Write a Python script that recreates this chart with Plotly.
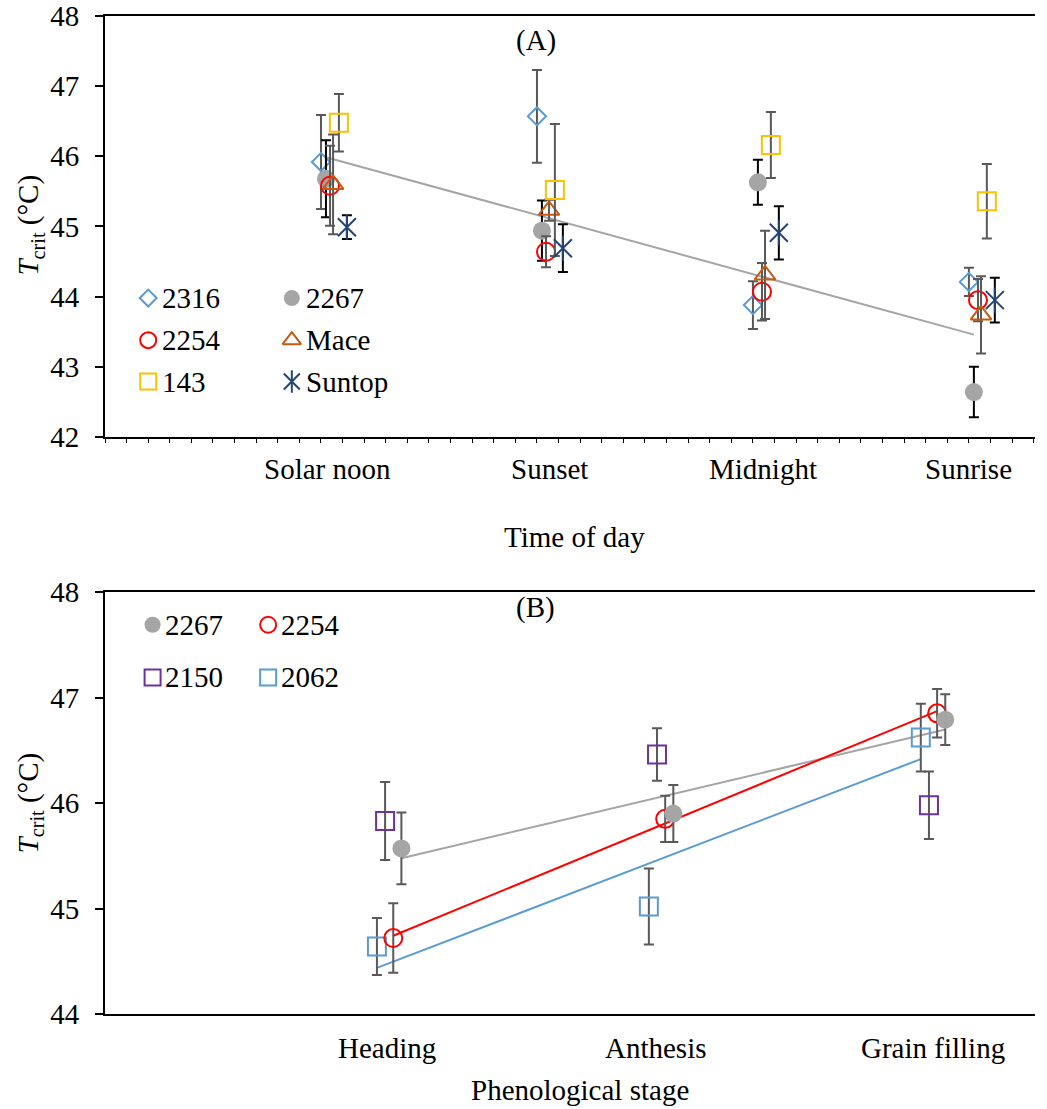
import numpy as np
import plotly.graph_objects as go

# ---------------- Data: panel A ----------------
times = ["Solar noon", "Sunset", "Midnight", "Sunrise"]
a_series = ["2316", "2267", "2254", "Mace", "143", "Suntop"]
a_2316 = [45.92, 46.57, 43.88, 44.21]
a_2316_err = [0.67, 0.66, 0.34, 0.20]
a_2267 = [45.68, 44.94, 45.63, 42.64]
a_2267_err = [0.55, 0.43, 0.32, 0.36]
a_2254 = [45.58, 44.64, 44.07, 43.95]
a_2254_err = [0.57, 0.22, 0.41, 0.30]
a_mace = [45.60, 45.23, 44.31, 43.74]
a_mace_err = [0.71, 0.15, 0.63, 0.55]
a_143 = [46.48, 45.52, 46.16, 45.36]
a_143_err = [0.41, 0.94, 0.47, 0.53]
a_suntop = [44.99, 44.69, 44.91, 43.95]
a_suntop_err = [0.17, 0.34, 0.38, 0.32]
a_yticks = [42, 43, 44, 45, 46, 47, 48]

# ---------------- Data: panel B ----------------
stages = ["Heading", "Anthesis", "Grain filling"]
b_2267 = [45.57, 45.90, 46.79]
b_2267_err = [0.34, 0.27, 0.24]
b_2254 = [44.72, 45.85, 46.85]
b_2254_err = [0.33, 0.22, 0.23]
b_2150 = [45.83, 46.46, 45.98]
b_2150_err = [0.37, 0.25, 0.32]
b_2062 = [44.64, 45.02, 46.62]
b_2062_err = [0.27, 0.36, 0.32]
b_yticks = [44, 45, 46, 47, 48]

FONT = "Liberation Serif"
FS = 29
GRAY_BAR = "#595959"
BLACK = "#000000"

C_2316 = "#5B9BD5"
C_2267 = "#A5A5A5"
C_2254 = "#FF0000"
C_MACE = "#C55A11"
C_143 = "#FFC000"
C_SUNTOP = "#264478"
C_2150 = "#7030A0"
C_2062 = "#5B9BD5"

fig = go.Figure()

def add_series(xs, ys, errs, symbol, color, size, errcolor, xa, ya, lw=2):
    fig.add_trace(go.Scatter(
        x=xs, y=ys, mode="markers", xaxis=xa, yaxis=ya, showlegend=False,
        marker=dict(symbol=symbol, size=size, color=color,
                    line=dict(color=color, width=lw)),
        error_y=dict(type="data", array=errs, visible=True, color=errcolor,
                     thickness=2, width=5),
        hoverinfo="skip"))

def add_trend(xs, ys, color, xa, ya):
    x = np.array(xs, dtype=float)
    y = np.array(ys, dtype=float)
    k, b = np.polyfit(x, y, 1)
    xe = np.array([x[0], x[-1]])
    fig.add_trace(go.Scatter(x=xe, y=k * xe + b, mode="lines", xaxis=xa, yaxis=ya,
                             line=dict(color=color, width=2), showlegend=False,
                             hoverinfo="skip"))

# ---------------- Panel A ----------------
ia = np.arange(1, len(times) + 1)
offA = [0.0, 0.023, 0.042, 0.056, 0.083, 0.12]

add_trend(ia + offA[1], a_2267, C_2267, "x", "y")
add_series(ia + offA[0], a_2316, a_2316_err, "diamond-open", C_2316, 14, GRAY_BAR, "x", "y")
add_series(ia + offA[1], a_2267, a_2267_err, "circle", C_2267, 18, BLACK, "x", "y", lw=0)
add_series(ia + offA[2], a_2254, a_2254_err, "circle-open", C_2254, 18, GRAY_BAR, "x", "y")
add_series(ia + offA[3], a_mace, a_mace_err, "triangle-up-open", C_MACE, 18, GRAY_BAR, "x", "y")
add_series(ia + offA[4], a_143, a_143_err, "square-open", C_143, 18, GRAY_BAR, "x", "y")
add_series(ia + offA[5], a_suntop, a_suntop_err, "x-thin-open", C_SUNTOP, 18, BLACK, "x", "y")
fig.add_trace(go.Scatter(x=ia + offA[5], y=a_suntop, mode="markers", xaxis="x", yaxis="y",
                         marker=dict(symbol="line-ns-open", size=18, color=C_SUNTOP,
                                     line=dict(color=C_SUNTOP, width=2)),
                         showlegend=False, hoverinfo="skip"))

# ---------------- Panel B ----------------
ib = np.arange(1, len(stages) + 1)
offB = {"2062": 0.0, "2150": 0.03, "2254": 0.06, "2267": 0.09}

add_trend(ib + offB["2267"], b_2267, C_2267, "x2", "y2")
add_trend(ib + offB["2254"], b_2254, C_2254, "x2", "y2")
add_trend(ib + offB["2062"], b_2062, C_2062, "x2", "y2")
add_series(ib + offB["2062"], b_2062, b_2062_err, "square-open", C_2062, 18, GRAY_BAR, "x2", "y2")
add_series(ib + offB["2150"], b_2150, b_2150_err, "square-open", C_2150, 18, GRAY_BAR, "x2", "y2")
add_series(ib + offB["2254"], b_2254, b_2254_err, "circle-open", C_2254, 18, GRAY_BAR, "x2", "y2")
add_series(ib + offB["2267"], b_2267, b_2267_err, "circle", C_2267, 18, GRAY_BAR, "x2", "y2", lw=0)

# ---------------- Manual legends ----------------
ann = []

def legend_item(xa, ya, mx, tx, yv, symbol, color, label, size=16, lw=2):
    fig.add_trace(go.Scatter(x=[mx], y=[yv], mode="markers", xaxis=xa, yaxis=ya,
                             marker=dict(symbol=symbol, size=size, color=color,
                                         line=dict(color=color, width=lw)),
                             showlegend=False, hoverinfo="skip"))
    ann.append(dict(x=tx, y=yv, xref=xa, yref=ya, text=label, showarrow=False,
                    xanchor="left", yanchor="middle",
                    font=dict(family=FONT, size=FS, color="black")))

# panel A legend (data coords of axis A)
legend_item("x", "y", 0.20, 0.255, 43.98, "diamond-open", C_2316, a_series[0], size=13)
legend_item("x", "y", 0.865, 0.92, 43.98, "circle", C_2267, a_series[1], lw=0)
legend_item("x", "y", 0.20, 0.255, 43.38, "circle-open", C_2254, a_series[2])
legend_item("x", "y", 0.865, 0.92, 43.38, "triangle-up-open", C_MACE, a_series[3])
legend_item("x", "y", 0.20, 0.255, 42.79, "square-open", C_143, a_series[4])
legend_item("x", "y", 0.865, 0.92, 42.79, "x-thin-open", C_SUNTOP, a_series[5])
fig.add_trace(go.Scatter(x=[0.865], y=[42.79], mode="markers", xaxis="x", yaxis="y",
                         marker=dict(symbol="line-ns-open", size=16, color=C_SUNTOP,
                                     line=dict(color=C_SUNTOP, width=2)),
                         showlegend=False, hoverinfo="skip"))

# panel B legend
legend_item("x2", "y2", 0.175, 0.215, 47.69, "circle", C_2267, "2267", lw=0)
legend_item("x2", "y2", 0.60, 0.64, 47.69, "circle-open", C_2254, "2254")
legend_item("x2", "y2", 0.175, 0.215, 47.19, "square-open", C_2150, "2150")
legend_item("x2", "y2", 0.60, 0.64, 47.19, "square-open", C_2062, "2062")

# ---------------- Text annotations ----------------
def txt(x, y, text, xref="paper", yref="paper", angle=0, xanchor="center"):
    ann.append(dict(x=x, y=y, xref=xref, yref=yref, text=text, showarrow=False,
                    textangle=angle, xanchor=xanchor, yanchor="middle",
                    font=dict(family=FONT, size=FS, color="black")))

labA_pos = [1.03, 2.06, 3.045, 4.0]
for p, t in zip(labA_pos, times):
    txt(p, 0.546, t, xref="x")
labB_pos = [1.037, 2.026, 3.044]
for p, t in zip(labB_pos, stages):
    txt(p, -0.034, t, xref="x2")

txt(0.505, 0.478, "Time of day")
txt(0.511, -0.076, "Phenological stage")
txt(0.4634, 0.975, "(A)")
txt(0.4634, 0.407, "(B)")
ytitle = "<i>T</i><sub>crit</sub> (°C)"
txt(-0.0806, 0.79, ytitle, angle=-90)
txt(-0.0806, 0.211, ytitle, angle=-90)

axis_common = dict(showline=True, linecolor="black", linewidth=2, showgrid=False,
                   zeroline=False, automargin=False)

fig.update_layout(
    width=1047, height=1109,
    margin=dict(l=105, r=12, t=16, b=95, autoexpand=False),
    paper_bgcolor="white", plot_bgcolor="white",
    font=dict(family=FONT, size=FS, color="black"),
    annotations=ann,
    xaxis=dict(domain=[0, 1], range=[0, 4.306], anchor="y", mirror=True,
               ticks="outside", tick0=0, dtick=0.1, ticklen=4, tickwidth=1,
               tickcolor="black", showticklabels=False, **axis_common),
    yaxis=dict(domain=[0.5782, 1], range=[42, 48], anchor="x", tickvals=a_yticks,
               ticks="outside", ticklen=8, tickwidth=2, tickcolor="black",
               ticklabelstandoff=10, tickfont=dict(family=FONT, size=FS),
               **axis_common),
    xaxis2=dict(domain=[0, 1], range=[0, 3.42], anchor="y2", mirror=True,
                ticks="", showticklabels=False, **axis_common),
    yaxis2=dict(domain=[0, 0.4228], range=[44, 48], anchor="x2", tickvals=b_yticks,
                ticks="outside", ticklen=8, tickwidth=2, tickcolor="black",
                ticklabelstandoff=10, tickfont=dict(family=FONT, size=FS),
                **axis_common),
)

fig.write_html("out.html", config={"displayModeBar": False},
               post_script="document.body.style.margin='0';")
